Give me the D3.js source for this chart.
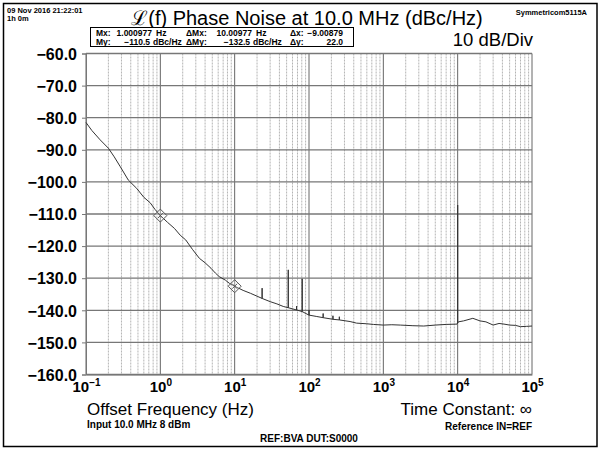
<!DOCTYPE html>
<html>
<head>
<meta charset="utf-8">
<script src="https://cdn.jsdelivr.net/npm/d3@7"></script>
<style>
    body { margin: 0; background: #fff; }
    svg { display: block; font-family: "Liberation Sans", Arial, Helvetica, sans-serif; }
</style>
</head>
<body>
<svg id="canvas"></svg>
<script>
// Phase noise trace (Hz, dBc/Hz)
const FREQS = [
    0.1, 0.12, 0.155, 0.2, 0.24, 0.29, 0.37, 0.48, 0.6, 0.73, 0.85, 1.0,
    1.25, 1.55, 1.85, 2.2, 2.7, 3.35, 4.0, 4.8, 5.5, 6.2, 7.5, 8.5, 10,
    13, 16.3, 20, 23.4, 30, 37, 45, 52.6, 68, 81, 100, 125, 155, 210, 256,
    357, 437, 600, 735, 1000, 1300, 1690, 2500, 3500, 5000, 7000, 9800,
    10200, 12000, 16000, 20000, 24000, 30000, 36000, 42000, 50000, 60000,
    70000, 85000, 100000
];
const NOISE = [
    -81.5, -84.0, -86.9, -89.5, -92.2, -95.3, -99.4, -102.0, -104.8, -106.5, -108.6, -110.5,
    -112.6, -114.5, -116.6, -118.1, -121.0, -123.8, -125.2, -126.9, -128.4, -129.5, -130.6, -131.6, -132.5,
    -133.8, -134.7, -135.6, -136.3, -137.3, -138.0, -138.8, -139.2, -139.9, -140.4, -141.5, -141.9, -142.3, -142.8, -143.0,
    -143.5, -144.0, -144.2, -144.4, -144.6, -144.5, -144.6, -144.8, -144.9, -144.6, -144.4, -144.3,
    -143.6, -143.3, -142.5, -143.3, -143.6, -144.6, -144.1, -144.3, -144.6, -144.7,
    -145.1, -145.0, -144.9
];

// Spurs (frequency and peak level)
const SPUR_FREQS = [23.4, 52.6, 68, 81, 100, 155, 210, 256, 10000];
const SPUR_TOPS = [-133.1, -127.4, -138.7, -130.2, -139.9, -141.0, -141.7, -142.0, -107.2];

// Markers
const MARKER_FREQS = [1, 10];
const MARKER_VALUES = [-110.5, -132.5];

const Y_TICKS = [-60, -70, -80, -90, -100, -110, -120, -130, -140, -150, -160];
const X_DECADES = [-1, 0, 1, 2, 3, 4, 5];
const SUPERSCRIPTS = ["\u22121", "0", "1", "2", "3", "4", "5"];

const width = 600;
const height = 450;
const plotLeft = 86, plotRight = 532, plotTop = 53.5, plotBottom = 374.5;

const canvas = d3.select("#canvas")
    .attr("width", width)
    .attr("height", height);

// outer frame
canvas.append("rect")
    .attr("x", 3.5).attr("y", 3.5)
    .attr("width", 593.5).attr("height", 443)
    .attr("fill", "none")
    .attr("stroke", "#000")
    .attr("stroke-width", 1.5);

const xScale = d3.scaleLog().domain([0.1, 1e5]).range([plotLeft, plotRight]);
const yScale = d3.scaleLinear().domain([-160, -60]).range([plotBottom, plotTop]);

//Grid: minor verticals, major verticals, horizontals
const minor = [];
X_DECADES.slice(0, -1).forEach(d => {
    for (let k = 2; k <= 9; k++) minor.push(k * Math.pow(10, d));
});

const grid = canvas.append("g");
grid.selectAll(".minor")
    .data(minor)
    .enter()
    .append("line")
    .attr("x1", d => xScale(d)).attr("x2", d => xScale(d))
    .attr("y1", plotTop).attr("y2", plotBottom)
    .attr("stroke", "#b4b4b4")
    .attr("stroke-dasharray", "2,1");

grid.selectAll(".major")
    .data(X_DECADES)
    .enter()
    .append("line")
    .attr("x1", d => xScale(Math.pow(10, d))).attr("x2", d => xScale(Math.pow(10, d)))
    .attr("y1", plotTop).attr("y2", plotBottom)
    .attr("stroke", "#666");

grid.selectAll(".hline")
    .data(Y_TICKS)
    .enter()
    .append("line")
    .attr("x1", plotLeft).attr("x2", plotRight)
    .attr("y1", d => yScale(d)).attr("y2", d => yScale(d))
    .attr("stroke", "#777")
    .attr("stroke-width", 1.3);

//Axes
const yAxis = d3.axisLeft(yScale)
    .tickValues(Y_TICKS)
    .tickSize(4)
    .tickPadding(5)
    .tickFormat(d3.format(".1f"));

const yG = canvas.append("g")
    .attr("transform", `translate(${plotLeft}, 0)`)
    .call(yAxis);
yG.select(".domain").attr("stroke", "#777");
yG.selectAll(".tick line").attr("stroke", "#777");
yG.selectAll(".tick text")
    .attr("fill", "#000")
    .attr("font-size", 16)
    .attr("font-weight", "bold")
    .attr("font-family", "Liberation Sans, Arial, sans-serif")
    .attr("dy", "0.36em");

const xAxis = d3.axisBottom(xScale)
    .tickValues(X_DECADES.map(d => Math.pow(10, d)))
    .tickSize(0)
    .tickFormat("");

const xG = canvas.append("g")
    .attr("transform", `translate(0, ${plotBottom})`)
    .call(xAxis);
xG.select(".domain").attr("stroke", "#777");
xG.selectAll(".tick text")
    .attr("y", 17.5)
    .attr("dy", null)
    .attr("fill", "#000")
    .attr("font-size", 15)
    .attr("font-weight", "bold")
    .attr("font-family", "Liberation Sans, Arial, sans-serif")
    .each(function(d, i) {
        const t = d3.select(this);
        t.append("tspan").text("10");
        t.append("tspan").attr("dy", -6).attr("font-size", 10).text(SUPERSCRIPTS[i]);
    });

//Trace with spurs
const baseAt = d3.scaleLog().domain(FREQS).range(NOISE);
const points = FREQS.map((f, i) => [f, NOISE[i]]);
SPUR_FREQS.forEach((f, i) => {
    const b = baseAt(f);
    points.push([f * 0.9999, b], [f, SPUR_TOPS[i]], [f * 1.0001, b]);
});
points.sort((a, b) => a[0] - b[0]);

const line = d3.line()
    .x(d => xScale(d[0]))
    .y(d => yScale(d[1]));

canvas.append("path")
    .datum(points)
    .attr("d", line)
    .attr("fill", "none")
    .attr("stroke", "#333")
    .attr("stroke-width", 1);

//Marker diamonds
const mk = canvas.selectAll(".marker")
    .data(MARKER_FREQS)
    .enter()
    .append("g")
    .attr("transform", (d, i) => `translate(${xScale(d)}, ${yScale(MARKER_VALUES[i])})`)
    .attr("fill", "none")
    .attr("stroke", "#555");
mk.append("path").attr("d", "M0,-6.5L6.5,0L0,6.5L-6.5,0Z").attr("fill", "#fff").attr("fill-opacity", 0.3);
mk.append("path").attr("d", "M-2.5,-2.5L2.5,2.5M2.5,-2.5L-2.5,2.5");

//Texts
const txt = (x, y, s, size, weight, anchor) => canvas.append("text")
    .attr("x", x).attr("y", y)
    .attr("font-size", size)
    .attr("font-weight", weight || "normal")
    .attr("text-anchor", anchor || "start")
    .attr("fill", "#000")
    .text(s);

txt(7, 12.5, "09 Nov 2016 21:22:01", 7.5, "bold");
txt(7, 21, "1h 0m", 7.5, "bold");
txt(587, 15, "Symmetricom5115A", 7.5, "bold", "end");
txt(307, 25, "\u2112(f) Phase Noise at 10.0 MHz (dBc/Hz)", 20, "normal", "middle");
txt(533, 46, "10 dB/Div", 18.5, "normal", "end");

// marker readout box
canvas.append("rect")
    .attr("x", 90.5).attr("y", 27.5)
    .attr("width", 263).attr("height", 19)
    .attr("fill", "#fff")
    .attr("stroke", "#000");

txt(96, 36, "Mx:", 8.5, "bold");
txt(152, 36, "1.000977", 8.5, "bold", "end");
txt(156, 36, "Hz", 8.5, "bold");
txt(186, 36, "\u0394Mx:", 8.5, "bold");
txt(252, 36, "10.00977", 8.5, "bold", "end");
txt(256, 36, "Hz", 8.5, "bold");
txt(290, 36, "\u0394x:", 8.5, "bold");
txt(343, 36, "\u22129.00879", 8.5, "bold", "end");

txt(96, 44.5, "My:", 8.5, "bold");
txt(150, 44.5, "\u2212110.5", 8.5, "bold", "end");
txt(153, 44.5, "dBc/Hz", 8.5, "bold");
txt(186, 44.5, "\u0394My:", 8.5, "bold");
txt(250, 44.5, "\u2212132.5", 8.5, "bold", "end");
txt(253, 44.5, "dBc/Hz", 8.5, "bold");
txt(290, 44.5, "\u0394y:", 8.5, "bold");
txt(343, 44.5, "22.0", 8.5, "bold", "end");

txt(87, 415, "Offset Frequency (Hz)", 17, "normal");
txt(532, 415, "Time Constant: \u221e", 17, "normal", "end");
txt(87, 428, "Input 10.0 MHz 8 dBm", 10, "bold");
txt(532, 430, "Reference IN=REF", 10, "bold", "end");
txt(309, 442, "REF:BVA DUT:S0000", 10, "bold", "middle");
</script>
</body>
</html>
